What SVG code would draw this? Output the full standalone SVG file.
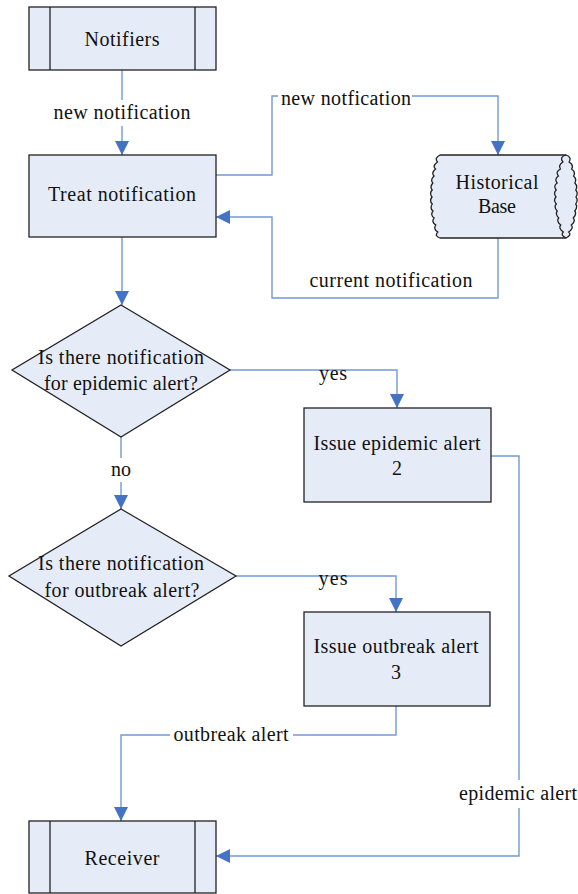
<svg xmlns="http://www.w3.org/2000/svg" width="578" height="894" viewBox="0 0 578 894">
<style>
.box{fill:#E6ECF7;stroke:#222;stroke-width:1.3}
.in{stroke:#222;stroke-width:1.3;fill:none}
.c{fill:none;stroke:#7199D6;stroke-width:1.4}
.bg{fill:#fff}
</style>
<defs>
<marker id="ah" markerUnits="userSpaceOnUse" markerWidth="14" markerHeight="14" refX="14" refY="7" orient="auto">
<path d="M0,0 L14,7 L0,14 z" fill="#4472C4"/>
</marker>
</defs>
<rect width="578" height="894" fill="#fff"/>
<g font-family="Liberation Serif, Times New Roman, serif" font-size="20" fill="#111" text-anchor="middle">
<g id="connectors">
<path class="c" d="M122,70 V155" marker-end="url(#ah)"/>
<path class="c" d="M215,175 H272 V96 H498 V155" marker-end="url(#ah)"/>
<path class="c" d="M498,238 V298 H272 V217 H216" marker-end="url(#ah)"/>
<path class="c" d="M122,237 V305" marker-end="url(#ah)"/>
<path class="c" d="M230,370 H397 V408" marker-end="url(#ah)"/>
<path class="c" d="M491,456 H519 V856 H216" marker-end="url(#ah)"/>
<path class="c" d="M121,437 V509" marker-end="url(#ah)"/>
<path class="c" d="M236,576 H396 V612" marker-end="url(#ah)"/>
<path class="c" d="M396,706 V735 H121 V821" marker-end="url(#ah)"/>
<rect class="bg" x="50" y="100" width="144" height="26"/>
<text x="122" y="119" textLength="137">new notification</text>
<rect class="bg" x="278" y="86" width="134" height="22"/>
<text x="346" y="105" textLength="130">new notfication</text>
<text x="391" y="287" textLength="163">current notification</text>
<text x="333" y="380" textLength="28">yes</text>
<rect class="bg" x="110" y="458" width="22" height="24"/>
<text x="121" y="476">no</text>
<text x="333" y="585" textLength="29">yes</text>
<rect class="bg" x="170" y="724" width="123" height="24"/>
<text x="231" y="741" textLength="115">outbreak alert</text>
<rect class="bg" x="455" y="780" width="123" height="28"/>
<text x="518" y="800" textLength="118">epidemic alert</text>
</g>
<g id="notifiers">
<rect class="box" x="29" y="7" width="187" height="63"/>
<line class="in" x1="50" y1="7" x2="50" y2="70"/>
<line class="in" x1="195" y1="7" x2="195" y2="70"/>
<text x="122" y="46" textLength="75">Notifiers</text>
</g>
<g id="treat">
<rect class="box" x="29" y="155" width="187" height="82"/>
<text x="122" y="201" textLength="148">Treat notification</text>
</g>
<g id="historical">
<path class="box" d="M440,155 H566 Q572,157 569.1,162 Q574,165 571.6,169 Q576,172 573.6,176 Q577,179 574.9,183 Q578,186 575.8,190 Q578.5,193 576,197 Q578.5,200 575.7,204 Q578,207 574.8,211 Q577,214 573.3,218 Q576,221 571.3,225 Q574,228 568.7,232 Q572,235 566,238 H440 Q434,236 437.8,232 Q433,229 435.8,225 Q431,222 434.1,218 Q430,215 433,211 Q429.5,208 432.3,204 Q429,201 432,197 Q429,193 432.2,190 Q429.5,187 432.8,183 Q430,180 434,176 Q431,173 435.5,169 Q432,166 437.5,162 Q434,158 440,155 Z"/>
<path class="in" d="M566,155 Q559,157 562.9,162 Q558,165 560.4,169 Q555,172 558.4,176 Q554,179 557.1,183 Q553,186 556.2,190 Q553,193 556,197 Q553,200 556.3,204 Q553.5,207 557.2,211 Q555,214 558.7,218 Q556,221 560.7,225 Q558,228 563.3,232 Q560,235 566,238"/>
<text x="497" y="189" textLength="83">Historical</text>
<text x="497" y="213" textLength="38">Base</text>
</g>
<g id="decision1">
<polygon class="box" points="121,305 230,370 121,437 12,370"/>
<text x="121" y="364" textLength="166">Is there notification</text>
<text x="121" y="390" textLength="154">for epidemic alert?</text>
</g>
<g id="epidemic">
<rect class="box" x="304" y="408" width="187" height="94"/>
<text x="397" y="450" textLength="167">Issue epidemic alert</text>
<text x="397" y="475">2</text>
</g>
<g id="decision2">
<polygon class="box" points="121,509 236,576 121,646 9,576"/>
<text x="121" y="570" textLength="166">Is there notification</text>
<text x="122" y="597" textLength="155">for outbreak alert?</text>
</g>
<g id="outbreak">
<rect class="box" x="304" y="612" width="186" height="94"/>
<text x="396" y="653" textLength="165">Issue outbreak alert</text>
<text x="396" y="679">3</text>
</g>
<g id="receiver">
<rect class="box" x="29" y="821" width="187" height="72"/>
<line class="in" x1="50" y1="821" x2="50" y2="893"/>
<line class="in" x1="195" y1="821" x2="195" y2="893"/>
<text x="122" y="865" textLength="75">Receiver</text>
</g>
</g>
</svg>
